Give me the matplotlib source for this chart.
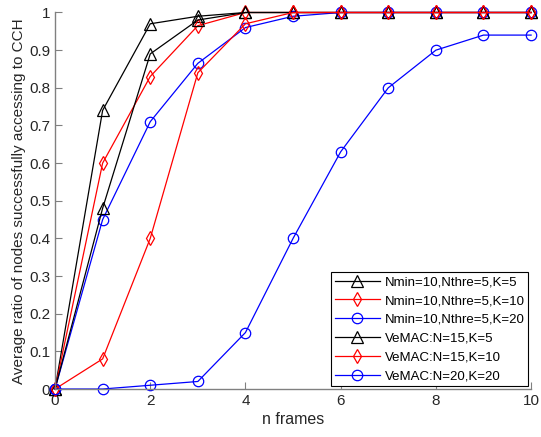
import matplotlib.pyplot as plt

plt.rcParams['font.family'] = ['Liberation Sans', 'DejaVu Sans']

frames = list(range(11))

nmin_k5 = [0, 0.74, 0.97, 0.99, 1, 1, 1, 1, 1, 1, 1]
nmin_k10 = [0, 0.60, 0.83, 0.965, 1, 1, 1, 1, 1, 1, 1]
nmin_k20 = [0, 0.45, 0.71, 0.865, 0.96, 0.99, 1, 1, 1, 1, 1]
vemac_n15_k5 = [0, 0.48, 0.89, 0.98, 1, 1, 1, 1, 1, 1, 1]
vemac_n15_k10 = [0, 0.08, 0.40, 0.84, 0.97, 1, 1, 1, 1, 1, 1]
vemac_n20_k20 = [0, 0, 0.01, 0.02, 0.15, 0.40, 0.63, 0.80, 0.90, 0.94, 0.94]

labels = ['Nmin=10,Nthre=5,K=5', 'Nmin=10,Nthre=5,K=10', 'Nmin=10,Nthre=5,K=20',
          'VeMAC:N=15,K=5', 'VeMAC:N=15,K=10', 'VeMAC:N=20,K=20']

series = [nmin_k5, nmin_k10, nmin_k20, vemac_n15_k5, vemac_n15_k10, vemac_n20_k20]
colors = ['k', 'r', 'b', 'k', 'r', 'b']
markers = ['^', 'd', 'o', '^', 'd', 'o']
msizes = [8, 7.5, 7.5, 8, 7.5, 7.5]

fig = plt.figure(figsize=(5.41, 4.37), dpi=100)
ax = fig.add_axes([0.1017, 0.1098, 0.880, 0.8616])

for y, c, m, ms, lab in zip(series, colors, markers, msizes, labels):
    ax.plot(frames, y, color=c, marker=m, markersize=ms, markerfacecolor='none',
            markeredgecolor=c, linewidth=0.9, markeredgewidth=0.9, label=lab,
            clip_on=False)

ax.set_xlim(0, 10)
ax.set_ylim(0, 1)
ax.set_xticks(range(0, 11, 2))
ax.set_yticks([i / 10 for i in range(11)])
ax.set_yticklabels(['0'] + ['0.%d' % i for i in range(1, 10)] + ['1'])

for s in ['top', 'right']:
    ax.spines[s].set_visible(False)
for s in ['left', 'bottom']:
    ax.spines[s].set_color('#808080')
    ax.spines[s].set_linewidth(1.0)
ax.tick_params(direction='in', length=5, color='#808080', labelcolor='#262626',
               labelsize=11)

ax.set_xlabel('n frames', fontsize=11.5, color='#262626', labelpad=3)
ax.set_ylabel('Average ratio of nodes successfully accessing to CCH', fontsize=11,
              color='#262626', labelpad=2)

leg = ax.legend(loc='lower right', bbox_to_anchor=(1.0, 0.0), fontsize=9.5,
                frameon=True, fancybox=False, edgecolor='k', framealpha=1,
                borderaxespad=0.2, handlelength=3.4, labelspacing=0.5,
                handletextpad=0.35, borderpad=0.3)
leg.get_frame().set_linewidth(0.8)

fig.savefig('out.png', dpi=100)
